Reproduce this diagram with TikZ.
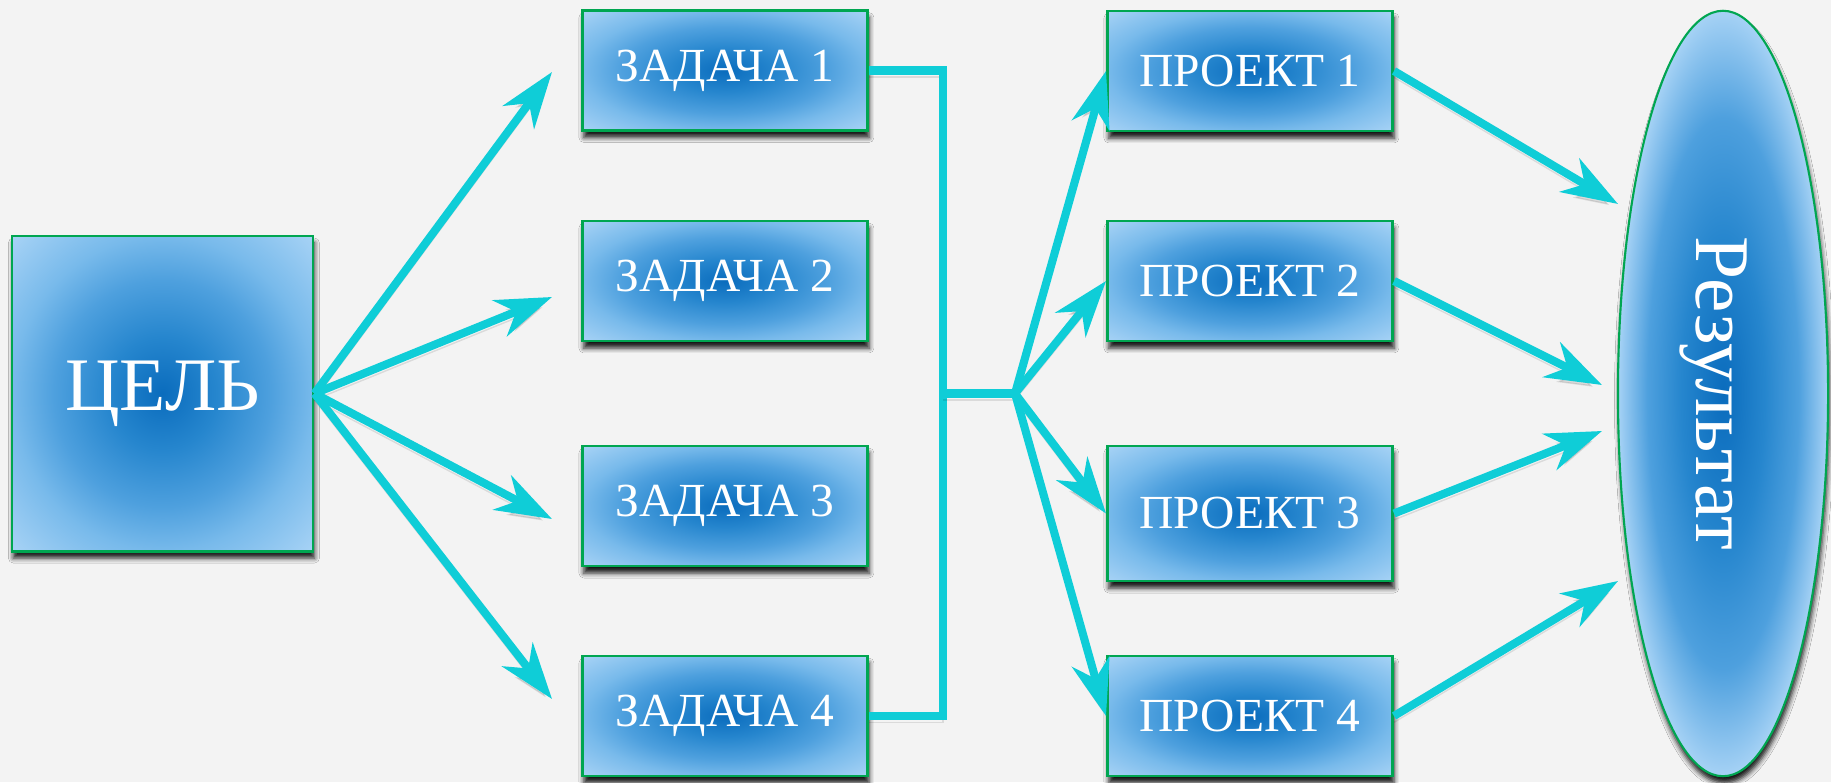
\documentclass[tikz,border=0pt]{standalone}
\usepackage{fontspec}
\setmainfont{Liberation Serif}
\usetikzlibrary{arrows.meta,shapes.geometric,shadows.blur}
\definecolor{bgpaper}{RGB}{243,243,243}
\definecolor{boxline}{RGB}{0,166,81}
\definecolor{linkcyan}{RGB}{15,205,215}
\definecolor{glowA}{RGB}{10,108,189}
\definecolor{glowB}{RGB}{38,134,206}
\definecolor{glowC}{RGB}{78,160,222}
\definecolor{glowD}{RGB}{120,186,235}
\definecolor{glowE}{RGB}{166,210,245}
\pgfdeclareradialshading{boxglow}{\pgfpointorigin}{color(0bp)=(glowA); color(9bp)=(glowB); color(18bp)=(glowC); color(25bp)=(glowD); color(35bp)=(glowE); color(50bp)=(glowE)}
\pgfdeclareradialshading{ovalglow}{\pgfpointorigin}{color(0bp)=(glowA); color(10bp)=(glowB); color(18bp)=(glowC); color(25bp)=(glowE); color(50bp)=(glowE)}

\begin{document}
\begin{tikzpicture}[x=0.01cm, y=-0.01cm,
    every node/.style={text=white, align=center},
    box/.style={draw=boxline, line width=0.8pt, shading=boxglow, inner sep=0pt,
        blur shadow={shadow xshift=0.4pt, shadow yshift=-2pt, shadow blur radius=1.4pt, shadow opacity=90}},
    taskbox/.style={box, minimum width=2.85cm, minimum height=1.2cm, font=\fontsize{13.5}{16}\selectfont},
    link/.style={draw=linkcyan, line width=2.3pt, line join=miter,
        preaction={draw=black, opacity=0.1, transform canvas={yshift=-1.8pt}}},
    arr/.style={link, -{Stealth[length=16pt, width=11pt, inset=5pt]}}]
    \fill[bgpaper] (0,0) rectangle (1831,782);
    \useasboundingbox (0,0) rectangle (1831,782);

    % Goal and tasks
    \node[box, minimum width=3.01cm, minimum height=3.15cm, font=\fontsize{21.5}{26}\selectfont]
        (goal) at (162.5,393.5) {ЦЕЛЬ};
    \node[taskbox] (task1) at (725,70.5) {ЗАДАЧА 1};
    \node[taskbox] (task2) at (725,281) {ЗАДАЧА 2};
    \node[taskbox] (task3) at (725,506) {ЗАДАЧА 3};
    \node[taskbox] (task4) at (725,716) {ЗАДАЧА 4};

    % Projects
    \node[taskbox] (proj1) at (1250,71) {ПРОЕКТ 1};
    \node[taskbox] (proj2) at (1250,281) {ПРОЕКТ 2};
    \node[taskbox, minimum height=1.35cm] (proj3) at (1250,513.5) {ПРОЕКТ 3};
    \node[taskbox] (proj4) at (1250,716) {ПРОЕКТ 4};

    % Result
    \node[ellipse, draw=boxline, line width=0.6pt, shading=ovalglow, minimum width=2.1cm, minimum height=7.65cm,
        blur shadow={shadow xshift=0.4pt, shadow yshift=-2pt, shadow blur radius=1.4pt, shadow opacity=90}]
        (res) at (1723,393.5) {};
    \node[rotate=-90, font=\fontsize{22}{26}\selectfont] (restext) at (1713,393.5) {Результат};

    % free ends of the arrows
    \coordinate (g1) at (552,72);
    \coordinate (g2) at (552,297);
    \coordinate (g3) at (552,519);
    \coordinate (g4) at (552,699);
    \coordinate (bus) at (943,393.5);
    \coordinate (hub) at (1015,393.5);
    \coordinate (r1) at (1618,204);
    \coordinate (r2) at (1602,385);
    \coordinate (r3) at (1602,431);
    \coordinate (r4) at (1618,581);

    \draw[arr] (goal.east) -- (g1);
    \draw[arr] (goal.east) -- (g2);
    \draw[arr] (goal.east) -- (g3);
    \draw[arr] (goal.east) -- (g4);

    \draw[link] (task1.east) -| (bus) |- (task4.east);
    \draw[link] (bus) -- (hub);

    \draw[arr] (hub) -- (proj1.west);
    \draw[arr] (hub) -- (proj2.west);
    \draw[arr] (hub) -- (proj3.west);
    \draw[arr] (hub) -- (proj4.west);

    \draw[arr] (proj1.east) -- (r1);
    \draw[arr] (proj2.east) -- (r2);
    \draw[arr] (proj3.east) -- (r3);
    \draw[arr] (proj4.east) -- (r4);
\end{tikzpicture}
\end{document}
